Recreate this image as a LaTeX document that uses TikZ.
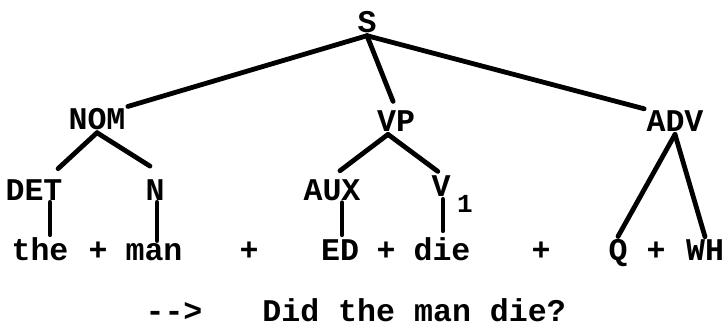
\documentclass[tikz,border=0pt]{standalone}
\usepackage{fontspec}
\newfontfamily\typewr{Liberation Mono}
\tikzset{
	lbl/.style={font=\typewr\bfseries\fontsize{15.8pt}{18pt}\selectfont, anchor=base, inner sep=1pt},
	sublbl/.style={font=\typewr\bfseries\fontsize{13pt}{15pt}\selectfont, anchor=base, inner sep=1pt},
	branch/.style={line width=2.4pt, line cap=round}
}
\begin{document}
\begin{tikzpicture}[x=0.5pt, y=-0.5pt]
	\useasboundingbox (0,0) rectangle (727,331);
	% Labels of the tree:
	\node[lbl](S) at (367, 33){S};
	\node[lbl](NOM) at (97, 130){NOM};
	\node[lbl](VP) at (396, 132){VP};
	\node[lbl](ADV) at (675, 132){ADV};
	\node[lbl](DET) at (34, 200){DET};
	\node[lbl](N) at (155, 200){N};
	\node[lbl](AUX) at (332, 200){AUX};
	\node[lbl](V) at (441, 197){V} node[sublbl] at (465, 213){1};
	% Terminal string:
	\node[lbl](the) at (40, 260){the};
	\node[lbl](plusA) at (98, 260){+};
	\node[lbl](man) at (154, 260){man};
	\node[lbl](plusB) at (249, 260){+};
	\node[lbl](ED) at (340, 260){ED};
	\node[lbl](plusC) at (386, 260){+};
	\node[lbl](die) at (442, 260){die};
	\node[lbl](plusD) at (541, 260){+};
	\node[lbl](Q) at (618, 260){Q};
	\node[lbl](plusE) at (656, 260){+};
	\node[lbl](WH) at (705, 260){WH};
	% Result:
	\node[lbl](arrow) at (174, 321){-{}-{}>};
	\node[lbl, anchor=base west](result) at (260, 321){Did the man die?};
	% Branches:
	\draw[branch] (S.south) -- (NOM.north east);
	\draw[branch, shorten >=4pt] (S.south) -- (VP.north);
	\draw[branch] (S.south) -- (ADV.north west);
	\draw[branch, shorten >=6pt] (NOM.south) -- (DET.40);
	\draw[branch, shorten >=10pt] (NOM.south) -- (N.north east);
	\draw[branch, shorten >=5pt] ([xshift=-4pt]VP.south) -- (AUX.north);
	\draw[branch, shorten >=2pt] ([xshift=-4pt]VP.south) -- (V.north);
	\draw[branch] ([xshift=5pt]the.north) -- ([xshift=5pt]the.north |- DET.south);
	\draw[branch] ([xshift=1.5pt]man.north) -- ([xshift=1.5pt]man.north |- N.south);
	\draw[branch, shorten <=1pt] ([xshift=1pt]ED.north) -- ([xshift=1pt]ED.north |- AUX.south);
	\draw[branch, shorten <=2pt] ([xshift=0.5pt]die.north) -- ([xshift=0.5pt]die.north |- V.south);
	\draw[branch] (ADV.south) -- (Q.north);
	\draw[branch] (ADV.south) -- (WH.north);
\end{tikzpicture}
\end{document}
